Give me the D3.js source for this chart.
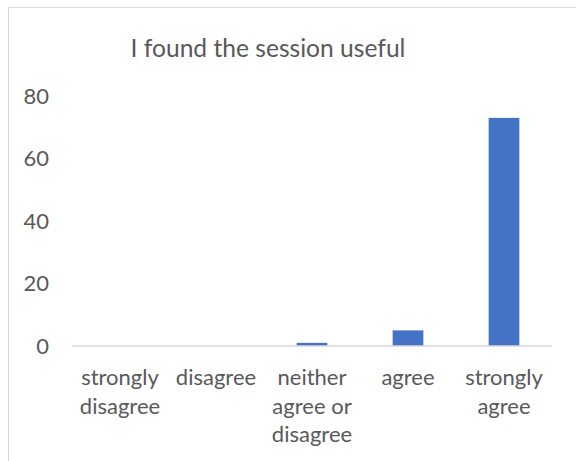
<!DOCTYPE html>
<html>
<head>
<meta charset="utf-8">
<script src="https://cdn.jsdelivr.net/npm/d3@7"></script>
<style>
  body { margin: 0; background: #fff; }
  svg { display: block; font-family: Lato, "Open Sans", sans-serif; }
</style>
</head>
<body>
<svg id="chart" width="576" height="461"></svg>
<script>
const categories = [
  ['strongly', 'disagree'],
  ['disagree'],
  ['neither', 'agree or', 'disagree'],
  ['agree'],
  ['strongly', 'agree']
];
const values = [0, 0, 1, 5, 73];
const yTicks = [0, 20, 40, 60, 80];
const title = 'I found the session useful';

const svg = d3.select('#chart');
const textColor = '#595959';

// chart frame
svg.append('rect')
  .attr('x', 8.5).attr('y', 7.5)
  .attr('width', 600).attr('height', 500)
  .attr('fill', 'none').attr('stroke', '#d9d9d9');

const x = d3.scaleBand()
  .domain(d3.range(categories.length))
  .range([72, 552])
  .paddingInner(0.68).paddingOuter(0.34);

const y = d3.scaleLinear().domain([0, 80]).range([346, 96]);

svg.append('text')
  .attr('x', 268).attr('y', 57)
  .attr('text-anchor', 'middle')
  .attr('font-size', 24.6).attr('fill', textColor)
  .text(title);

// y axis labels
svg.selectAll('.ytick').data(yTicks).join('text')
  .attr('class', 'ytick')
  .attr('x', 49).attr('y', d => y(d))
  .attr('dy', '0.35em')
  .attr('text-anchor', 'end')
  .attr('font-size', 22).attr('fill', textColor)
  .text(d => d);

// bars
svg.selectAll('.bar').data(values).join('rect')
  .attr('class', 'bar')
  .attr('x', (d, i) => x(i))
  .attr('width', x.bandwidth())
  .attr('y', d => y(d))
  .attr('height', d => y(0) - y(d))
  .attr('fill', '#4472c4');

// baseline
svg.append('line')
  .attr('x1', 72).attr('x2', 552)
  .attr('y1', y(0)).attr('y2', y(0))
  .attr('stroke', '#d9d9d9').attr('stroke-width', 1.5);

// category labels
const cx = i => x(i) + x.bandwidth() / 2;
const lab = svg.selectAll('.xlab').data(categories).join('text')
  .attr('class', 'xlab')
  .attr('text-anchor', 'middle')
  .attr('font-size', 22).attr('fill', textColor);
lab.selectAll('tspan').data((d, i) => d.map(t => ({ t, i }))).join('tspan')
  .attr('x', d => cx(d.i))
  .attr('y', (d, j) => 385 + j * 28.5)
  .text(d => d.t);
</script>
</body>
</html>
